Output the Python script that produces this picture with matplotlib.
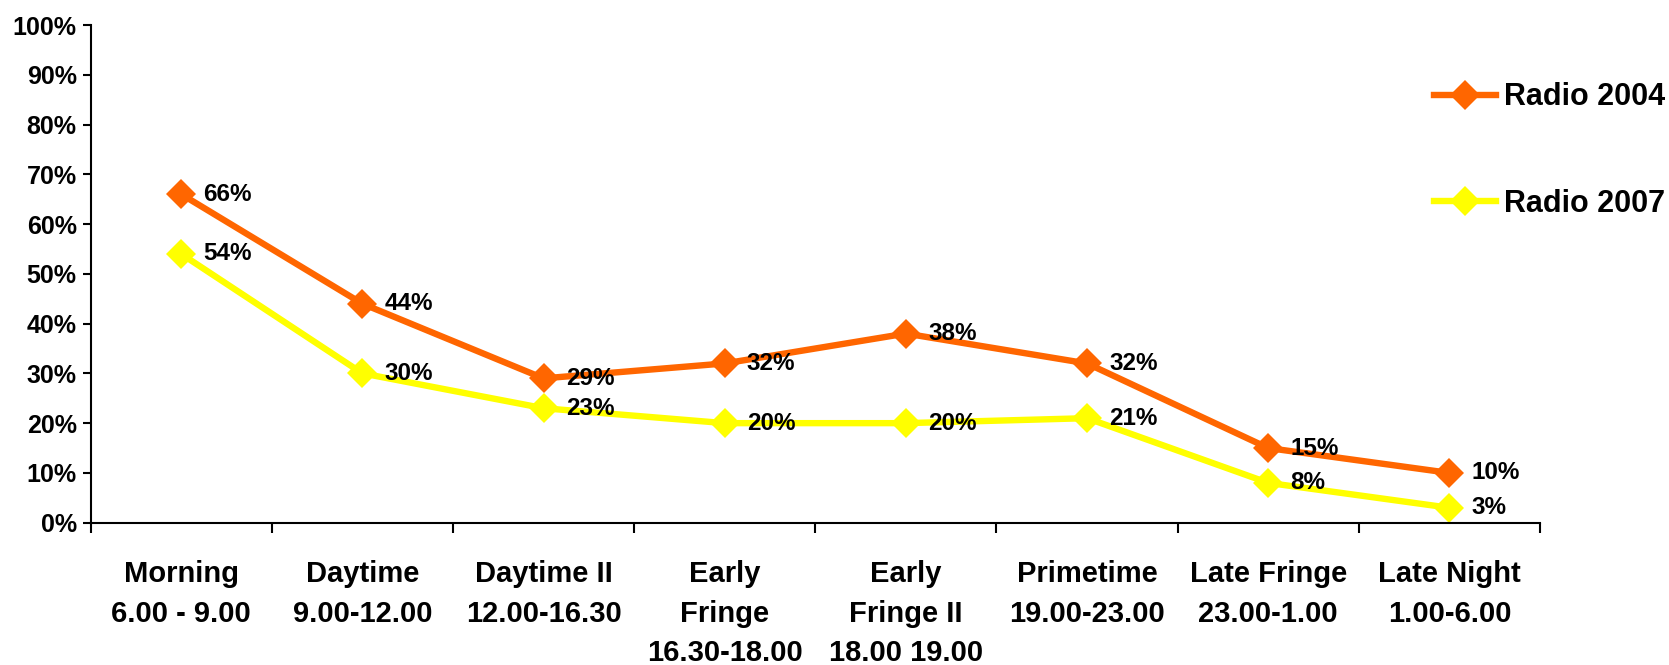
import matplotlib.pyplot as plt
import numpy as np

plt.rcParams['font.family'] = ['Liberation Sans', 'DejaVu Sans']
plt.rcParams['font.weight'] = 'bold'

categories = ['Morning\n6.00 - 9.00', 'Daytime\n9.00-12.00', 'Daytime II\n12.00-16.30',
              'Early\nFringe\n16.30-18.00', 'Early\nFringe II\n18.00 19.00',
              'Primetime\n19.00-23.00', 'Late Fringe\n23.00-1.00', 'Late Night\n1.00-6.00']
radio_2004 = [66, 44, 29, 32, 38, 32, 15, 10]
radio_2007 = [54, 30, 23, 20, 20, 21, 8, 3]

fig = plt.figure(figsize=(16.69, 6.65), dpi=100)
ax = fig.add_axes([0.0543, 0.214, 0.9227 - 0.0543, 0.9624 - 0.214])

x = np.arange(len(categories)) + 0.5
l1, = ax.plot(x, radio_2004, color='#FF6600', lw=4.6, marker='D', ms=15.5, mew=0,
              label='Radio 2004')
l2, = ax.plot(x, radio_2007, color='#FFFF00', lw=4.6, marker='D', ms=15.5, mew=0,
              label='Radio 2007')

# value labels to the right of each marker
for xs, ys in [(x, radio_2004), (x, radio_2007)]:
    for xi, yi in zip(xs, ys):
        ax.annotate(f'{yi}%', (xi, yi), textcoords='offset points', xytext=(16, 0),
                    ha='left', va='center', fontsize=17.5, fontweight='bold')

ax.set_xlim(0, len(categories))
ax.set_ylim(0, 100)
ax.set_yticks(range(0, 101, 10))
ax.set_yticklabels([f'{v}%' for v in range(0, 101, 10)], fontsize=18, fontweight='bold')
ax.tick_params(axis='y', direction='out', length=6, width=1.5, pad=4)

# ticks on category boundaries, labels centred between them
ax.set_xticks(range(len(categories) + 1))
ax.set_xticklabels([])
ax.tick_params(axis='x', which='major', direction='out', length=7, width=1.5)
ax.set_xticks(x, minor=True)
ax.set_xticklabels(categories, minor=True, fontsize=21, fontweight='bold',
                   linespacing=1.52, va='top')
ax.tick_params(axis='x', which='minor', length=0, pad=27)

for s in ['top', 'right']:
    ax.spines[s].set_visible(False)
for s in ['left', 'bottom']:
    ax.spines[s].set_linewidth(1.5)

fig.legend(handles=[l1, l2], loc='upper left', bbox_to_anchor=(0.843, 0.9175),
           frameon=False, labelspacing=2.5, handlelength=2.03,
           handletextpad=0.23, prop={'weight': 'bold', 'size': 22})

fig.savefig('out.png', dpi=100)
